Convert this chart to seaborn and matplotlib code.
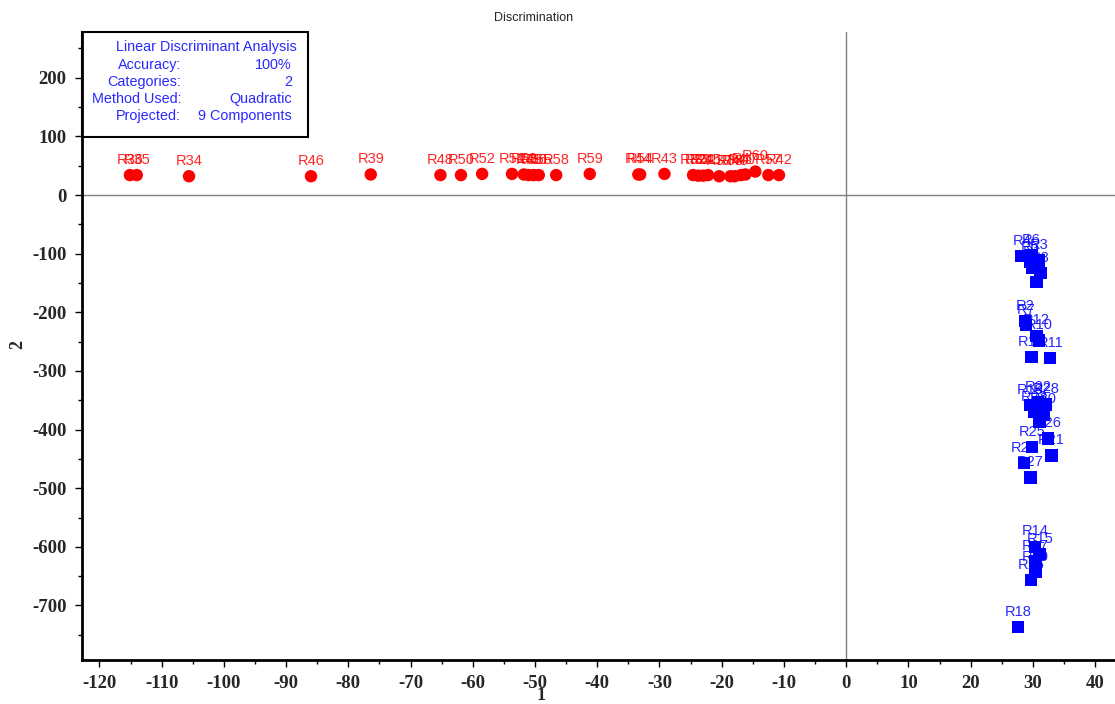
import matplotlib
matplotlib.use("Agg")
import matplotlib.pyplot as plt
import seaborn as sns
import pandas as pd
from matplotlib.patches import Rectangle
from matplotlib.ticker import MultipleLocator

# class 1 (red circles)
red_names = ["R36", "R35", "R34", "R46", "R39", "R48", "R50", "R52", "R51", "R53",
             "R49", "R56", "R55", "R58", "R59", "R44", "R54", "R43", "R32", "R33",
             "R31", "R45", "R37", "R38", "R40", "R41", "R47", "R60", "R57", "R42"]
red_x = [-115.1, -114.0, -105.6, -86.0, -76.4, -65.2, -61.9, -58.5, -53.7, -51.8,
         -51.0, -50.2, -49.4, -46.6, -41.2, -33.4, -33.1, -29.2, -24.6, -23.8,
         -23.0, -22.2, -20.4, -18.6, -17.9, -16.9, -16.2, -14.6, -12.5, -10.8]
red_y = [34, 34, 32, 32, 35, 34, 34, 36, 36, 35,
         34, 34, 34, 34, 36, 35, 35, 36, 34, 33,
         33, 34, 32, 32, 32, 34, 35, 40, 34, 34]

# class 2 (blue squares)
blue_names = ["R4", "R6", "R5", "R3", "R1", "R8", "R9",
              "R2", "R7", "R12", "R10", "R13", "R11",
              "R19", "R22", "R28", "R23", "R20", "R29", "R25", "R26", "R21", "R24", "R27",
              "R14", "R15", "R17", "R30", "R16", "R18"]
blue_x = [28.2, 29.8, 29.5, 31.0, 29.9, 31.2, 30.6,
          28.7, 28.9, 30.6, 31.0, 29.8, 32.8,
          29.5, 30.8, 32.1, 30.2, 31.7, 31.1, 29.9, 32.4, 33.0, 28.6, 29.6,
          30.3, 31.1, 30.4, 30.4, 29.7, 27.6]
blue_y = [-104, -103, -114, -112, -124, -133, -148,
          -215, -222, -240, -248, -276, -278,
          -358, -354, -357, -370, -374, -387, -430, -415, -444, -457, -482,
          -600, -612, -625, -643, -657, -737]

info_keys = ["Accuracy:", "Categories:", "Method Used:", "Projected:"]
info_vals = ["100%", "2", "Quadratic", "9 Components"]

sns.set_style("white")
plt.rcParams['font.family'] = ['Liberation Sans', 'DejaVu Sans']
plt.rcParams['axes.unicode_minus'] = False

df = pd.DataFrame({
    'name': red_names + blue_names,
    'x': red_x + blue_x,
    'y': red_y + blue_y,
    'group': ['A'] * len(red_names) + ['B'] * len(blue_names),
})
colors = {'A': '#ff0000', 'B': '#0000ff'}

fig = plt.figure(figsize=(11.15, 7.04), dpi=100)
ax = fig.add_axes([82 / 1115, 44 / 704, 1033 / 1115, 628 / 704])

ax.axhline(0, color='#808080', lw=1, zorder=0)
ax.axvline(0, color='#808080', lw=1, zorder=0)

sns.scatterplot(data=df, x='x', y='y', hue='group', style='group',
                markers={'A': 'o', 'B': 's'}, palette=colors, s=80,
                linewidth=0, legend=False, ax=ax, zorder=3)

# point labels
for _, r in df.iterrows():
    ax.annotate(r['name'], (r['x'], r['y']), xytext=(0, 6), textcoords='offset points',
                ha='center', va='bottom', fontsize=10.5, color=colors[r['group']], alpha=0.85)

ax.set_xlim(-122.8, 43.2)
ax.set_ylim(-793, 278)
ax.xaxis.set_major_locator(MultipleLocator(10))
ax.xaxis.set_minor_locator(MultipleLocator(5))
ax.yaxis.set_major_locator(MultipleLocator(100))
ax.yaxis.set_minor_locator(MultipleLocator(50))
ax.tick_params(which='major', direction='out', length=5, width=1, color='black', pad=6,
               bottom=True, left=True)
ax.tick_params(which='minor', direction='out', length=3, width=1, color='black',
               bottom=True, left=True)
for lab in ax.get_xticklabels() + ax.get_yticklabels():
    lab.set_fontfamily('Liberation Serif')
    lab.set_fontweight('bold')
    lab.set_fontsize(13.5)

for s in ['top', 'right']:
    ax.spines[s].set_visible(False)
for s in ['left', 'bottom']:
    ax.spines[s].set_color('black')
    ax.spines[s].set_linewidth(2)
ax.set_xlabel('')
ax.set_ylabel('')

# info box
ax.add_patch(Rectangle((0, 1 - 0.167), 0.219, 0.167, transform=ax.transAxes,
                       fill=False, ec='black', lw=1.5, clip_on=False, zorder=5))
blue_txt = '#2a2aff'
ax.text((297 - 82) / 1033, (660 - 47) / 628, 'Linear Discriminant Analysis', transform=ax.transAxes,
        ha='right', va='center', fontsize=10.4, color=blue_txt)
for i, (k, v) in enumerate(zip(info_keys, info_vals)):
    yy = (660 - (65 + 17 * i)) / 628
    ax.text((181 - 82) / 1033, yy, k, transform=ax.transAxes, ha='right', va='center',
            fontsize=10.4, color=blue_txt)
    ax.text((292 - 82) / 1033, yy, v, transform=ax.transAxes, ha='right', va='center',
            fontsize=10.4, color=blue_txt)

fig.text(534 / 1115, 1 - 18 / 704, 'Discrimination', ha='center', va='center', fontsize=9)
fig.text(541 / 1115, 1 - 696 / 704, '1', ha='center', va='center', fontsize=13,
         fontfamily='Liberation Serif', fontweight='bold')
fig.text(18 / 1115, 1 - 345 / 704, '2', ha='center', va='center', fontsize=13, rotation=90,
         fontfamily='Liberation Serif', fontweight='bold')

fig.savefig('out.png', dpi=100)
